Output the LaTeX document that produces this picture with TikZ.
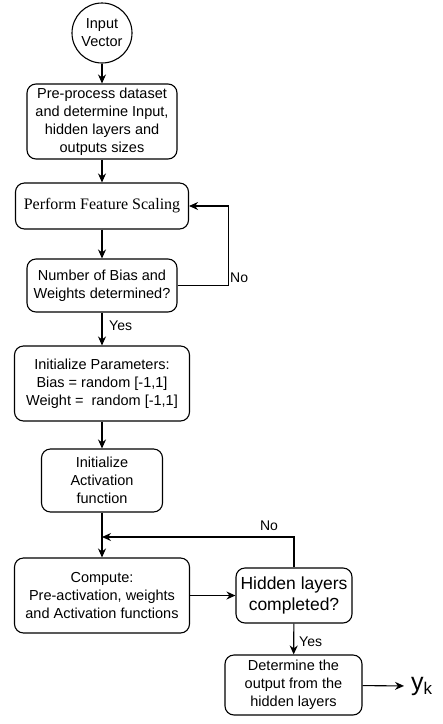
\documentclass[tikz,border=0pt]{standalone}
\usepackage{fontspec}
\setmainfont{Liberation Sans}
\newfontfamily\timesfont{Liberation Serif}
\usetikzlibrary{shapes,arrows.meta,positioning}

\tikzset{
	flowbox/.style={draw, rounded corners=9pt, line width=1.1pt, align=center,
		inner sep=0pt, font=\fontsize{14.5}{18}\selectfont},
	flowline/.style={line width=1.1pt, -{Stealth[length=9pt,width=8pt]}},
	answer/.style={font=\fontsize{14}{15}\selectfont, inner sep=1pt},
}

\begin{document}
\begin{tikzpicture}[x=1pt,y=-1pt]
		\useasboundingbox (0,0) rectangle (443,724);
		\def\xm{102}
		% start and preprocessing
		\node[draw, circle, line width=1.1pt, minimum size=60pt, inner sep=0pt, align=center,
			font=\fontsize{14.5}{18}\selectfont] (input) at (\xm,33) {Input\\Vector};
		\node[flowbox, minimum width=150pt, minimum height=75pt] (prep) at (\xm,121.5)
			{Pre-process dataset\\and determine Input,\\hidden layers and\\outputs sizes};
		\node[flowbox, minimum width=173pt, minimum height=46pt, font=\timesfont\fontsize{16}{18}\selectfont]
			(scale) at (\xm,206) {Perform Feature Scaling};
		\node[flowbox, minimum width=150pt, minimum height=53pt] (check) at (\xm,285.5)
			{Number of Bias and\\Weights determined?};
		% parameters
		\node[flowbox, minimum width=175pt, minimum height=75pt] (init) at (\xm,383.5)
			{Initialize Parameters:\\Bias = random [-1,1]\\Weight = \ random [-1,1]};
		\node[flowbox, minimum width=121pt, minimum height=63pt] (act) at (\xm,480.5)
			{Initialize\\Activation\\function};
		% hidden layer loop
		\node[flowbox, minimum width=175pt, minimum height=75pt] (compute) at (\xm,595.5)
			{Compute:\\Pre-activation, weights\\and Activation functions};
		\node[flowbox, minimum width=116pt, minimum height=55pt, font=\fontsize{17.5}{21}\selectfont]
			(hidden) at (294,595.5) {Hidden layers\\completed?};
		\node[flowbox, minimum width=137pt, minimum height=60pt] (output) at (293.5,685)
			{Determine the\\output from the\\hidden layers};
		\node[anchor=west, inner sep=0pt] (yk) at (411,686)
			{{\fontsize{25}{25}\selectfont y}{\fontsize{17}{17}\selectfont\raisebox{-4pt}{k}}};
		\coordinate (join) at (\xm,537);
		% connectors
		\draw[flowline] (input) -- (prep);
		\draw[flowline] (prep) -- (scale);
		\draw[flowline] (scale) -- (check);
		\draw[flowline] (check.east) -- ++(51,0) |- (scale.east);
		\node[answer, anchor=west] (no1) at (229,278) {No};
		\draw[flowline] (check) -- (init);
		\node[answer, anchor=west] (yes1) at (108,326) {Yes};
		\draw[flowline] (init) -- (act);
		\draw[flowline] (act) -- (compute);
		\draw[flowline] (compute) -- (hidden);
		\draw[flowline] (hidden.north) |- (join);
		\node[answer] (no2) at (269,526) {No};
		\draw[flowline] (hidden) -- (output);
		\node[answer, anchor=west] (yes2) at (298,642) {Yes};
		\draw[flowline, shorten >=7pt] (output) -- (yk.west);
	\end{tikzpicture}
\end{document}
